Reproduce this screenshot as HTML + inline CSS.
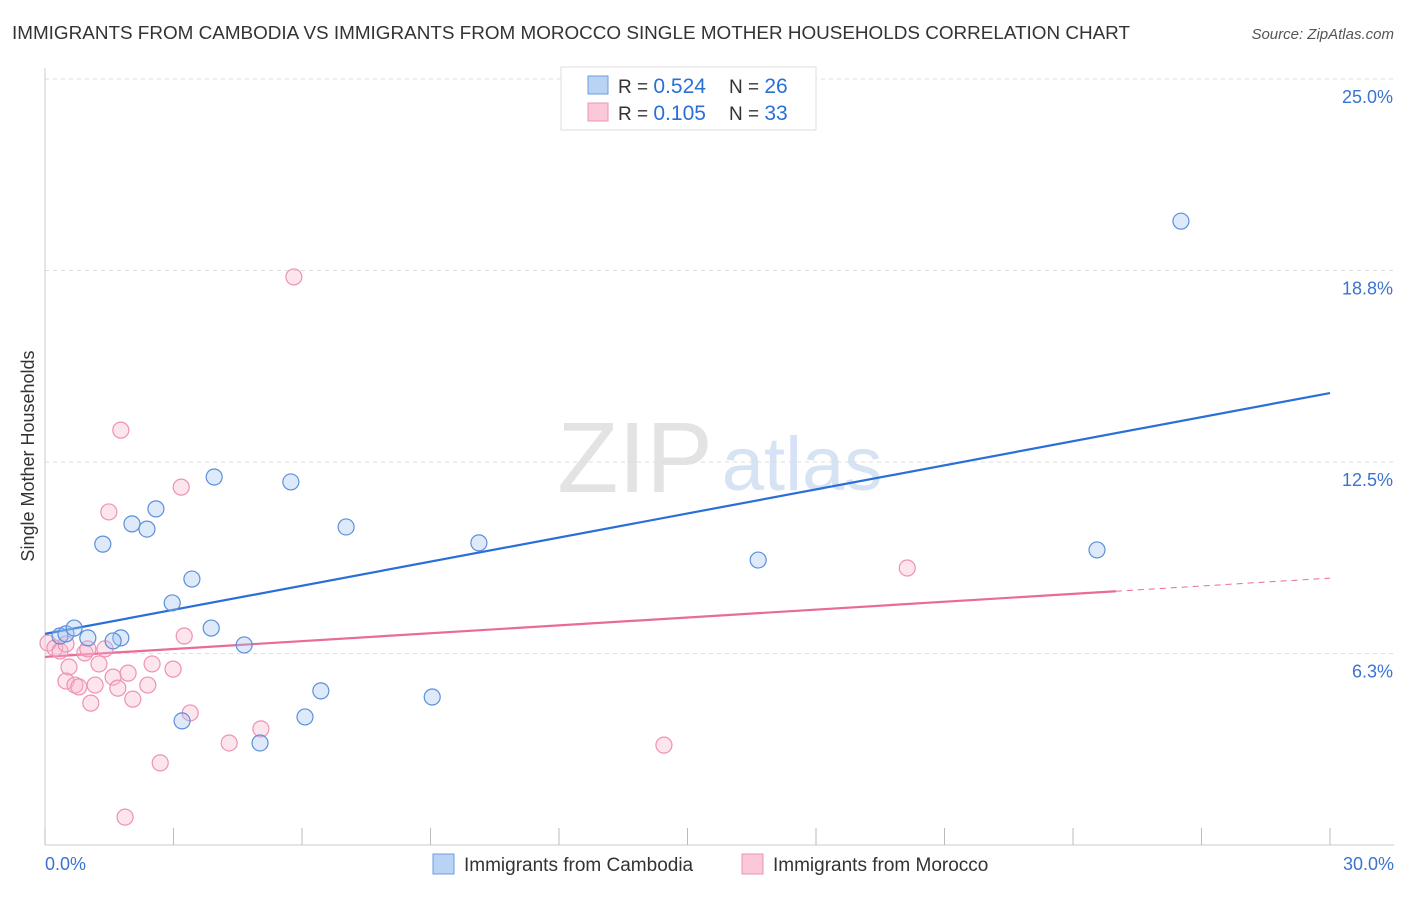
<!DOCTYPE html>
<html><head><meta charset="utf-8"><style>
body{margin:0;background:#fff;font-family:"Liberation Sans",sans-serif}
svg text{font-family:"Liberation Sans",sans-serif}
</style></head><body>
<svg width="1406" height="892" viewBox="0 0 1406 892" xmlns="http://www.w3.org/2000/svg">
<text x="12" y="39" font-size="18" fill="#333" textLength="1118" lengthAdjust="spacingAndGlyphs">IMMIGRANTS FROM CAMBODIA VS IMMIGRANTS FROM MOROCCO SINGLE MOTHER HOUSEHOLDS CORRELATION CHART</text>
<text x="1394" y="39" font-size="15" fill="#555" font-style="italic" text-anchor="end">Source: ZipAtlas.com</text>
<g><text x="635" y="492" font-size="100" fill="#e3e3e3" font-family="Liberation Serif" text-anchor="middle">ZIP</text><text x="802" y="490" font-size="76" fill="#d6e3f5" text-anchor="middle">atlas</text></g>
<g id="grid"></g>
<g id="axes"></g>
<g id="lines"></g>
<g id="points"></g>
<text x="34" y="456" font-size="18" fill="#333" text-anchor="middle" transform="rotate(-90 34 456)">Single Mother Households</text>
<text x="45" y="870" font-size="18" fill="#3b73d1">0.0%</text>
<text x="1394" y="870" font-size="18" fill="#3b73d1" text-anchor="end">30.0%</text>
<g>
<rect x="561" y="67" width="255" height="63" fill="#fff" stroke="#ddd"/>
<rect x="588" y="76" width="20" height="18" fill="#b9d3f5" stroke="#6d9be0"/>
<rect x="588" y="103" width="20" height="18" fill="#fbc8d9" stroke="#ee92b2"/>
<text x="618" y="93" font-size="19" fill="#333">R = <tspan fill="#2a6fd8" font-size="21">0.524</tspan></text>
<text x="729" y="93" font-size="19" fill="#333">N = <tspan fill="#2a6fd8" font-size="21">26</tspan></text>
<text x="618" y="120" font-size="19" fill="#333">R = <tspan fill="#2a6fd8" font-size="21"> 0.105</tspan></text>
<text x="729" y="120" font-size="19" fill="#333">N = <tspan fill="#2a6fd8" font-size="21">33</tspan></text>
</g>
<g>
<rect x="433" y="854" width="21" height="20" fill="#b9d3f5" stroke="#6d9be0"/>
<text x="464" y="871" font-size="19" fill="#333">Immigrants from Cambodia</text>
<rect x="742" y="854" width="21" height="20" fill="#fbc8d9" stroke="#ee92b2"/>
<text x="773" y="871" font-size="19" fill="#333">Immigrants from Morocco</text>
</g>
</svg>
<script>
const yTicks=[6.25,12.5,18.75,25];
const yTickLabels=["6.3%","12.5%","18.8%","25.0%"];
const xTicks=[0,3,6,9,12,15,18,21,24,27,30];
const camX=[0.35,0.49,0.68,1.00,1.35,1.77,1.59,2.03,2.38,2.59,2.97,3.20,3.43,3.88,3.95,4.65,5.02,5.74,6.07,6.44,7.03,9.04,10.13,16.65,24.56,26.52];
const camY=[6.82,6.89,7.08,6.76,9.82,6.76,6.66,10.48,10.31,10.97,7.90,4.05,8.68,7.08,12.01,6.53,3.33,11.85,4.18,5.03,10.38,4.83,9.86,9.30,9.63,20.36];
const morX=[0.07,0.23,0.35,0.49,0.56,0.49,0.70,0.79,0.93,1.00,1.07,1.17,1.26,1.40,1.49,1.59,1.70,1.77,1.94,2.05,2.40,2.50,2.69,1.87,2.99,3.18,3.25,3.39,4.30,5.04,5.81,14.45,20.13];
const morY=[6.59,6.43,6.33,6.56,5.81,5.35,5.22,5.16,6.27,6.40,4.63,5.22,5.91,6.40,10.87,5.48,5.12,13.54,5.61,4.76,5.22,5.91,2.68,0.91,5.74,11.68,6.82,4.31,3.33,3.79,18.54,3.26,9.04];
const camFit=[6.89,14.75];
const morFit=[6.14,8.71];
const morSolidEnd=25;
const NS="http://www.w3.org/2000/svg";
const sx=v=>45+v*(1285/30), sy=v=>845-v*30.64;
function mk(t,a,p){const e=document.createElementNS(NS,t);for(const k in a)e.setAttribute(k,a[k]);p.appendChild(e);return e;}
const grid=document.getElementById('grid'),axes=document.getElementById('axes'),lines=document.getElementById('lines'),pts=document.getElementById('points');
yTicks.forEach((v,i)=>{
 const l=mk('line',{x1:45,x2:1394,y1:sy(v),y2:sy(v),stroke:'#ddd','stroke-dasharray':'4,4'},grid);
 
 
 const t=mk('text',{x:1393,y:sy(v)+24,'font-size':18,fill:'#3b73d1','text-anchor':'end'},grid);t.textContent=yTickLabels[i];
 
 
});
const ya=mk('line',{x1:45,x2:45,y1:68,y2:845,stroke:'#ccc'},axes);


const xa=mk('line',{x1:45,x2:1394,y1:845,y2:845,stroke:'#ccc'},axes);


xTicks.forEach(v=>{const t=mk('line',{x1:sx(v),x2:sx(v),y1:828,y2:845,stroke:'#bbb'},axes);
 
 });
function dots(xs,ys,fill,stroke,name){xs.forEach((x,i)=>{const c=mk('circle',{cx:sx(x),cy:sy(ys[i]),r:8,fill:fill,stroke:stroke,'stroke-width':1.2},pts);
 
 });}
dots(morX,morY,'rgba(248,180,205,0.35)','#ee92b2','point-morocco');
dots(camX,camY,'rgba(160,195,240,0.35)','#5b8fd9','point-cambodia');
const bl=mk('line',{x1:sx(0),y1:sy(camFit[0]),x2:sx(30),y2:sy(camFit[1]),stroke:'#2a6fd8','stroke-width':2.2},lines);


const mAt=x=>morFit[0]+(morFit[1]-morFit[0])*x/30;
const pl=mk('line',{x1:sx(0),y1:sy(morFit[0]),x2:sx(morSolidEnd),y2:sy(mAt(morSolidEnd)),stroke:'#e96b98','stroke-width':2.2},lines);


const pd=mk('line',{x1:sx(morSolidEnd),y1:sy(mAt(morSolidEnd)),x2:sx(30),y2:sy(morFit[1]),stroke:'#e96b98','stroke-width':1,'stroke-dasharray':'6,5'},lines);


</script>
</body></html>
